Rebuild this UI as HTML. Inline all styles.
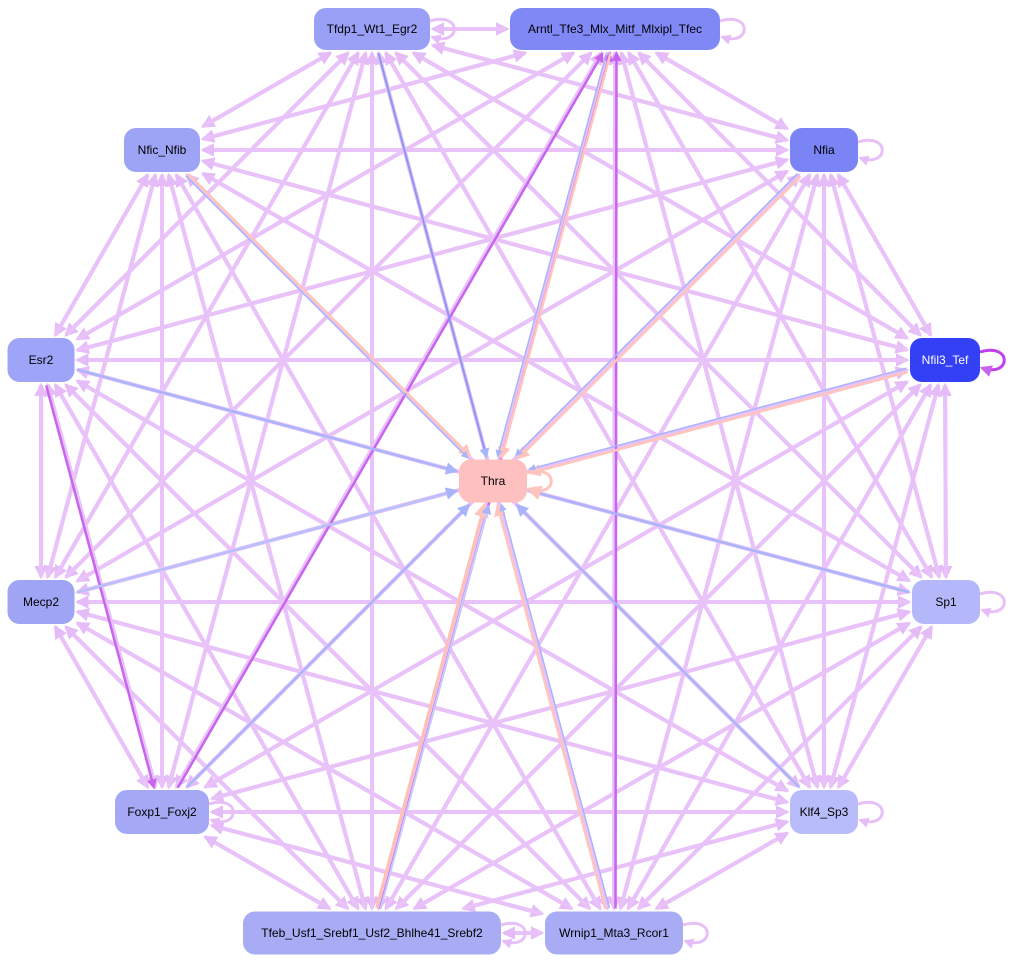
<!DOCTYPE html>
<html><head><meta charset="utf-8"><style>
html,body{margin:0;padding:0;background:#fff;width:1013px;height:963px;overflow:hidden}
svg{display:block}
text{font-family:"Liberation Sans",sans-serif;font-size:12px}
</style></head><body>
<svg id="g" width="1013" height="963" xmlns="http://www.w3.org/2000/svg">
<defs>
<marker id="mp" markerWidth="3.4" markerHeight="3.4" refX="2.8" refY="1.7" orient="auto" markerUnits="strokeWidth"><path d="M0,0L3.4,1.7L0,3.4z" fill="#e6bcf8"/></marker>
<marker id="md" markerWidth="4" markerHeight="4" refX="3.2" refY="2" orient="auto" markerUnits="strokeWidth"><path d="M0,0L4,2L0,4z" fill="#c864f0"/></marker>
<marker id="mb" markerWidth="5" markerHeight="5" refX="4" refY="2.5" orient="auto" markerUnits="strokeWidth"><path d="M0,0L5,2.5L0,5z" fill="#aab4fa"/></marker>
<marker id="mo" markerWidth="5" markerHeight="5" refX="4" refY="2.5" orient="auto" markerUnits="strokeWidth"><path d="M0,0L5,2.5L0,5z" fill="#ffc4bc"/></marker>
</defs>
<g id="edges"></g><g id="nodes"></g>
</svg>
<script>
var N={
T:[372,29,116,42,"Tfdp1_Wt1_Egr2","#9aa0f5","#000"],
A:[615,29,210,42,"Arntl_Tfe3_Mlx_Mitf_Mlxipl_Tfec","#8088f5","#000"],
NN:[162,150,76,44,"Nfic_Nfib","#9ea4f5","#000"],
NA:[824,150,68,44,"Nfia","#7a84f5","#000"],
E:[41,360,67,44,"Esr2","#9ea4f8","#000"],
NF:[945,360,70,44,"Nfil3_Tef","#3340f5","#fff"],
TH:[493,481,68,43,"Thra","#ffc0c0","#000"],
M:[41,602,67,44,"Mecp2","#a0a4f5","#000"],
S:[946,602,68,44,"Sp1","#b4b8fa","#000"],
F:[162,812,94,44,"Foxp1_Foxj2","#a4a8f5","#000"],
K:[824,812,68,44,"Klf4_Sp3","#b8bcfa","#000"],
TF:[372,933,258,43,"Tfeb_Usf1_Srebf1_Usf2_Bhlhe41_Srebf2","#a8acf5","#000"],
W:[614,933,138,43,"Wrnip1_Mta3_Rcor1","#a8acf5","#000"]};
var ns="http://www.w3.org/2000/svg",eg=document.getElementById("edges"),ng=document.getElementById("nodes");
function clip(a,b){var dx=b[0]-a[0],dy=b[1]-a[1],hw=b[2]/2+3,hh=b[3]/2+3;var t=Math.min(dx?hw/Math.abs(dx):1e9,dy?hh/Math.abs(dy):1e9);return [b[0]-dx*t,b[1]-dy*t];}
function line(a,b,col,w,mk,off){var A=N[a],B=N[b];var p=clip(B,A),q=clip(A,B);var dx=q[0]-p[0],dy=q[1]-p[1],l=Math.hypot(dx,dy);var ox=-dy/l*(off||0),oy=dx/l*(off||0);
var e=document.createElementNS(ns,"line");e.setAttribute("x1",p[0]+ox);e.setAttribute("y1",p[1]+oy);e.setAttribute("x2",q[0]+ox);e.setAttribute("y2",q[1]+oy);e.setAttribute("stroke",col);e.setAttribute("stroke-width",w);e.setAttribute("marker-end","url(#"+mk+")");eg.appendChild(e);}
var outer=["T","A","NN","NA","E","NF","M","S","F","K","TF","W"];
for(var i=0;i<outer.length;i++)for(var j=0;j<outer.length;j++)if(i!=j){line(outer[i],outer[j],"#e8c2f8",4,"mp",0);}
[["W","A"],["F","A"],["E","F"],["TF","A"]].forEach(function(p){line(p[0],p[1],"#c864f0",2.5,"md",1.5);});
line("T","TH","#8898f0",2,"mb",0);line("NN","TH","#ffc4bc",2.5,"mo",-1.5);line("NN","TH","#aab4fa",1.5,"mb",1.5);
line("A","TH","#ffc4bc",2.5,"mo",-2);line("A","TH","#aab4fa",1.5,"mb",2);line("NA","TH","#ffc4bc",2.5,"mo",-2);line("NA","TH","#aab4fa",1.5,"mb",2);
line("E","TH","#aab4fa",2.5,"mb",0);line("NF","TH","#ffc4bc",2.5,"mo",-2);line("NF","TH","#aab4fa",1.5,"mb",2);
line("M","TH","#b8c0fa",2.5,"mb",0);line("S","TH","#aab4fa",2.5,"mb",0);line("F","TH","#aab4fa",2.5,"mb",0);line("K","TH","#aab4fa",2.5,"mb",0);
line("TF","TH","#ffc0b4",3,"mo",-2);line("TF","TH","#c8ccfa",2,"mb",2);line("W","TH","#ffc4bc",2.5,"mo",-2);line("W","TH","#aab4fa",1.5,"mb",2);
["T","A","NA","NF","TH","S","F","K","TF","W"].forEach(function(k){var n=N[k],x=n[0]+n[2]/2,y=n[1];var p=document.createElementNS(ns,"path");p.setAttribute("d","M"+x+","+(y-8)+" C"+(x+32)+","+(y-18)+" "+(x+32)+","+(y+18)+" "+(x+2)+","+(y+8));p.setAttribute("fill","none");var c=k=="NF"?"#c040f0":(k=="TH"?"#ffc4bc":"#e8c0f8");p.setAttribute("stroke",c);p.setAttribute("stroke-width",3);p.setAttribute("marker-end",k=="NF"?"url(#md)":(k=="TH"?"url(#mo)":"url(#mp)"));eg.appendChild(p);});
for(var k in N){var n=N[k];var r=document.createElementNS(ns,"rect");r.setAttribute("x",n[0]-n[2]/2);r.setAttribute("y",n[1]-n[3]/2);r.setAttribute("width",n[2]);r.setAttribute("height",n[3]);r.setAttribute("rx",12);r.setAttribute("fill",n[5]);ng.appendChild(r);
var t=document.createElementNS(ns,"text");t.setAttribute("x",n[0]);t.setAttribute("y",n[1]+4);t.setAttribute("text-anchor","middle");t.setAttribute("fill",n[6]);t.textContent=n[4];ng.appendChild(t);}
</script>
</body></html>
